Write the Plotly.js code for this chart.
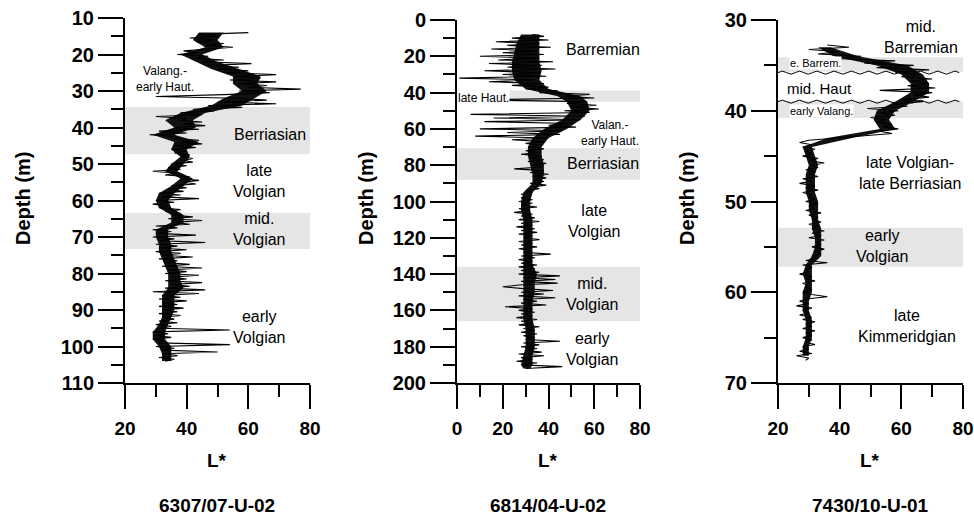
<!DOCTYPE html>
<html>
<head>
<meta charset="utf-8">
<script src="https://cdn.plot.ly/plotly-3.0.1.min.js"></script>
<style>html,body{margin:0;padding:0;background:#fff;}#chart{width:974px;height:518px;}</style>
</head>
<body>
<div id="chart"></div>
<script>
// ---------- Core 6307/07-U-02 ----------
const depth1 = [14,14.5,15,15.5,16,16.5,17,17.5,18,18.5,
19,19.5,20,20.5,21,21.5,22,22.5,23,23.5,
24,24.5,25,25.5,26,26.5,27,27.5,28,28.5,
29,29.5,30,30.5,31,31.5,32,32.5,33,33.5,
34,34.5,35,35.5,36,36.5,37,37.5,38,38.5,
39,39.5,40,40.5,41,41.5,42,42.5,43,43.5,
44,44.5,45,45.5,46,46.5,47,47.5,48,48.5,
49,49.5,50,50.5,51,51.5,52,52.5,53,53.5,
54,54.5,55,55.5,56,56.5,57,57.5,58,58.5,
59,59.5,60,60.5,61,61.5,62,62.5,63,63.5,
64,64.5,65,65.5,66,66.5,67,67.5,68,68.5,
69,69.5,70,70.5,71,71.5,72,72.5,73,73.5,
74,74.5,75,75.5,76,76.5,77,77.5,78,78.5,
79,79.5,80,80.5,81,81.5,82,82.5,83,83.5,
84,84.5,85,85.5,86,86.5,87,87.5,88,88.5,
89,89.5,90,90.5,91,91.5,92,92.5,93,93.5,
94,94.5,95,95.5,96,96.5,97,97.5,98,98.5,
99,99.5,100,100.5,101,101.5,102,102.5,103,103.5,
104];
const lstar1 = [60,44,50,41,49,43,52,46,55,47,
39,44,37,47,42,52,45,61,47,57,
50,60,53,69,56,64,54,69,57,66,
60,77,57,67,52,30,56,66,50,69,
47,58,42,49,38,45,30,40,38,45,
39,46,36,44,31,40,28,37,36,44,
38,45,36,43,35,40,36,41,38,42,
39,42,35,40,34,38,29,37,33,41,
38,44,39,43,35,40,34,39,31,38,
32,44,30,36,29,34,31,38,33,38,
35,42,34,45,36,41,30,37,29,35,
30,43,29,36,31,46,30,37,31,40,
30,38,32,42,31,37,33,41,32,45,
34,40,33,44,35,40,33,45,35,41,
33,46,29,44,32,38,31,40,32,37,
31,39,32,37,31,38,32,36,31,37,
30,35,31,54,29,34,30,35,29,33,
31,54,30,36,32,50,32,37,31,36,
33];
// dense core of the record (inner envelope)
const coreDepth1 = [14,16,18,20,22,24,26,28,30,32,34,36,38,40,42,44,46,48,50,52,54,56,58,60,62,64,66,68,70,72,74,76,78,80,82,84,86,88,90,92,94,96,98,100,102,104];
const coreLow1  = [44,42,46,38,43,48,55,55,58,52,48,38,33,36,29,36,35,38,35,33,38,35,31,30,31,35,35,30,30,31,31,32,33,34,34,34,32,32,32,32,31,29,29,31,32,32];
const coreHigh1 = [52,50,52,45,50,57,64,63,66,62,58,46,42,43,36,44,40,41,39,37,42,39,36,34,35,39,39,34,34,35,35,36,37,38,38,39,36,36,36,35,34,33,33,35,35,35];

// ---------- Core 6814/04-U-02 ----------
const depth2 = [8,9,10,11,12,13,14,15,16,17,
18,19,20,21,22,23,24,25,26,27,
28,29,30,31,32,33,34,35,36,37,
38,39,40,41,42,43,44,45,46,47,
48,49,50,51,52,53,54,55,56,57,
58,59,60,61,62,63,64,65,66,67,
68,69,70,71,72,73,74,75,76,77,
78,79,80,81,82,83,84,85,86,87,
88,89,90,91,92,93,94,95,96,97,
98,99,100,101,102,103,104,105,106,107,
108,109,110,111,112,113,114,115,116,117,
118,119,120,121,122,123,124,125,126,127,
128,129,130,131,132,133,134,135,136,137,
138,139,140,141,142,143,144,145,146,147,
148,149,150,151,152,153,154,155,156,157,
158,159,160,161,162,163,164,165,166,167,
168,169,170,171,172,173,174,175,176,177,
178,179,180,181,182,183,184,185,186,187,
188,189,190,191,192];
const lstar2 = [33,38,24,40,17,36,22,41,15,35,
20,38,10,36,18,42,14,37,22,43,
12,36,20,39,1,34,14,38,24,40,
30,44,36,58,47,60,10,56,48,61,
50,62,47,58,6,56,16,54,12,50,
40,52,10,46,22,45,8,40,24,38,
30,37,31,38,30,36,28,37,32,38,
31,39,33,37,25,38,32,40,33,39,
34,38,32,39,33,36,30,33,28,32,
28,33,27,33,28,35,27,32,25,33,
28,34,27,36,28,33,26,34,28,35,
27,33,29,36,27,33,28,35,27,32,
29,41,28,34,27,33,28,35,27,34,
28,36,27,45,29,43,28,44,27,20,
29,42,28,38,27,43,29,35,28,39,
21,33,27,34,28,33,26,35,28,33,
27,36,29,34,28,35,29,34,30,45,
29,36,28,35,30,37,27,38,28,33,
26,35,28,46,30];
const coreDepth2 = [8,13,18,23,28,33,38,42,45,50,55,60,65,70,75,80,85,90,95,100,105,110,115,120,125,130,135,140,145,150,155,160,165,170,175,180,185,190,192];
const coreLow2  = [28,26,25,24,24,25,30,44,48,50,46,38,33,31,31,32,33,33,29,28,28,29,29,29,29,29,29,29,29,29,29,29,29,30,30,30,29,28,29];
const coreHigh2 = [36,36,36,36,37,36,40,54,57,58,54,48,40,37,37,38,38,37,33,32,32,33,33,33,33,33,33,35,34,34,33,33,33,34,34,34,33,33,32];

// ---------- Core 7430/10-U-01 ----------
const depth3 = [32.75,33,33.25,33.5,33.75,34,34.25,34.5,34.75,35,
35.25,35.5,35.75,36,36.25,36.5,36.75,37,37.25,37.5,
37.75,38,38.25,38.5,38.75,39,39.25,39.5,39.75,40,
40.25,40.5,40.75,41,41.25,41.5,41.75,42,42.25,42.5,
42.75,43,43.25,43.5,43.75,44,44.25,44.5,44.75,45,
45.25,45.5,45.75,46,46.25,46.5,46.75,47,47.25,47.5,
47.75,48,48.25,48.5,48.75,49,49.25,49.5,49.75,50,
50.25,50.5,50.75,51,51.25,51.5,51.75,52,52.25,52.5,
52.75,53,53.25,53.5,53.75,54,54.25,54.5,54.75,55,
55.25,55.5,55.75,56,56.25,56.5,56.75,57,57.25,57.5,
57.75,58,58.25,58.5,58.75,59,59.25,59.5,59.75,60,
60.25,60.5,60.75,61,61.25,61.5,61.75,62,62.25,62.5,
62.75,63,63.25,63.5,63.75,64,64.25,64.5,64.75,65,
65.25,65.5,65.75,66,66.25,66.5,66.75,67,67.25,67.5];
const lstar3 = [36,43,30,40,33,47,38,58,48,64,
52,69,58,66,60,70,63,69,62,71,
53,70,64,69,61,67,57,62,49,59,
53,58,50,55,52,57,54,59,53,57,
48,40,30,27,31,28,32,29,31,28,
33,30,35,31,33,29,32,30,33,28,
31,27,32,29,33,28,31,30,32,29,
33,30,32,29,34,30,33,31,34,30,
33,31,35,31,34,30,35,32,34,31,
35,32,34,31,33,29,36,28,31,29,
30,27,31,29,32,28,30,29,31,28,
31,36,29,27,30,26,31,28,30,27,
31,28,32,29,31,28,32,29,31,28,
31,29,32,28,30,27,31,26,30,29];
const coreDepth3 = [33,34,35,36,37,38,39,40,41,42,43,44,45,46,47,48,49,50,51,52,53,54,55,56,57,58,59,60,61,62,63,64,65,66,67];
const coreLow3  = [33,38,52,60,63,63,58,52,51,53,36,28,29,30,29,29,29,30,30,31,31,32,32,31,29,28,29,28,28,28,29,29,29,28,28];
const coreHigh3 = [37,46,62,67,69,69,64,58,56,58,44,31,32,33,32,32,32,33,33,33,34,34,34,34,31,31,31,31,30,30,31,31,31,30,30];

// ---------- Panel titles, axis labels and stage labels ----------
const coreNames = ["6307/07-U-02", "6814/04-U-02", "7430/10-U-01"];
const depthTitle = "Depth (m)";
const lTitle = "L*";

// stage shading bands [top, bottom] per core
const bands1 = [[34.4, 47.3], [63.4, 73.3]];
const bands2 = [[38.8, 45.0], [70.7, 88.0], [136, 166]];
const bands3 = [[34.1, 35.7], [38.9, 40.8], [52.9, 57.2]];
// unconformity depths in core 3
const unconf3 = [35.8, 39.0];

// labels: [text, L*, depth, size, whiteBg]
const labels1 = [
  ["Valang.-<br>early Haut.", 33, 26.6, 12, false],
  ["Berriasian", 67, 41.8, 16, false],
  ["late<br>Volgian", 63.7, 54.7, 16, false],
  ["mid.<br>Volgian", 63.7, 67.8, 16, false],
  ["early<br>Volgian", 63.7, 94.7, 16, false]
];
const labels2 = [
  ["Barremian", 63.8, 16.5, 16, false],
  ["late Haut.", 11.5, 43.0, 12, true],
  ["Valan.-<br>early Haut.", 67, 62, 12, false],
  ["Berriasian", 63.8, 78.8, 16, false],
  ["late<br>Volgian", 60.3, 110.7, 16, false],
  ["mid.<br>Volgian", 59.4, 151, 16, false],
  ["early<br>Volgian", 59.4, 181, 16, false]
];
const labels3 = [
  ["mid.<br>Barremian", 66.3, 31.9, 16, false],
  ["e. Barrem.", 32, 34.7, 11, true],
  ["mid. Haut", 33.3, 37.5, 15, false],
  ["early Valang.", 34, 40.0, 11, true],
  ["late Volgian-<br>late Berriasian", 62.8, 46.9, 16, false],
  ["early<br>Volgian", 54, 54.9, 16, false],
  ["late<br>Kimmeridgian", 61.8, 63.7, 16, false]
];

// ---------- Build figure ----------
const W = 974, H = 518;
const px = v => v / W;
const py = v => 1 - v / H;

const lineStyle = {color: "#000", width: 1.1};
function coreTrace(d, lo, hi, xa, ya) {
  return {
    x: lo.concat(hi.slice().reverse()),
    y: d.concat(d.slice().reverse()),
    xaxis: xa, yaxis: ya, mode: "lines", fill: "toself",
    fillcolor: "#111", line: {width: 0, color: "#111"}, hoverinfo: "skip"
  };
}
const traces = [
  coreTrace(coreDepth1, coreLow1, coreHigh1, "x", "y"),
  coreTrace(coreDepth2, coreLow2, coreHigh2, "x2", "y2"),
  coreTrace(coreDepth3, coreLow3, coreHigh3, "x3", "y3"),
  {x: lstar1, y: depth1, xaxis: "x", yaxis: "y", mode: "lines", line: lineStyle, hoverinfo: "x+y"},
  {x: lstar2, y: depth2, xaxis: "x2", yaxis: "y2", mode: "lines", line: lineStyle, hoverinfo: "x+y"},
  {x: lstar3, y: depth3, xaxis: "x3", yaxis: "y3", mode: "lines", line: lineStyle, hoverinfo: "x+y"}
];

const tickFontY = {family: "Liberation Sans, Arial, sans-serif", size: 20, color: "#000", weight: "bold"};
const tickFontX = {family: "Liberation Sans, Arial, sans-serif", size: 19, color: "#000", weight: "bold"};

function xAxis(domain, range, anchor) {
  return {
    domain: domain, range: range, anchor: anchor, fixedrange: true,
    showline: true, linecolor: "#000", linewidth: 2, mirror: false,
    showgrid: false, zeroline: false,
    ticks: "outside", ticklen: 24, tickwidth: 2, tickcolor: "#000",
    tick0: 0, dtick: 20, tickfont: tickFontX, ticklabeloverflow: "allow", ticklabelstandoff: 3,
    minor: {dtick: 10, tick0: 0, ticks: "outside", ticklen: 12, tickwidth: 2, tickcolor: "#000", showgrid: false}
  };
}
function yAxis(domain, range, dtick, anchor) {
  return {
    domain: domain, range: range, anchor: anchor, fixedrange: true,
    showline: true, linecolor: "#000", linewidth: 2,
    showgrid: false, zeroline: false,
    ticks: "outside", ticklen: 25, tickwidth: 2, tickcolor: "#000",
    tick0: 0, dtick: dtick, tickfont: tickFontY, ticklabeloverflow: "allow",
    minor: {dtick: dtick / 2, tick0: 0, ticks: "outside", ticklen: 12, tickwidth: 2, tickcolor: "#000", showgrid: false}
  };
}

const dom1x = [px(125), px(310)], dom2x = [px(457), px(640)], dom3x = [px(778), px(963)];
const dom1y = [py(383), py(18)], dom2y = [py(383), py(20)], dom3y = [py(383), py(20)];
const xr1 = [20, 80], xr2 = [0, 80], xr3 = [20, 80];

const shapes = [];
function addBands(bands, xr, xref, yref) {
  bands.forEach(b => shapes.push({
    type: "rect", xref: xref, yref: yref, x0: xr[0], x1: xr[1], y0: b[0], y1: b[1],
    fillcolor: "#e5e5e5", line: {width: 0}, layer: "below"
  }));
}
addBands(bands1, xr1, "x", "y");
addBands(bands2, xr2, "x2", "y2");
addBands(bands3, xr3, "x3", "y3");

// wavy unconformity lines (decoration)
unconf3.forEach(d => {
  let p = "M " + xr3[0] + "," + d;
  let k = 0;
  for (let xv = xr3[0] + 1.4; xv <= xr3[1] + 0.01; xv += 1.4) {
    k++;
    const off = (k % 4 === 1) ? -0.17 : (k % 4 === 3 ? 0.17 : 0);
    p += " L " + xv.toFixed(2) + "," + (d + off).toFixed(3);
  }
  shapes.push({type: "path", xref: "x3", yref: "y3", path: p, line: {color: "#000", width: 1}, layer: "above"});
});

const annotations = [];
const labFont = s => ({family: "Liberation Sans, Arial, sans-serif", size: s, color: "#000"});
function addLabels(list, xref, yref) {
  list.forEach(l => {
    const a = {text: l[0], x: l[1], y: l[2], xref: xref, yref: yref, showarrow: false,
      font: labFont(l[3]), xanchor: "center", yanchor: "middle", align: "center"};
    if (l[4]) { a.bgcolor = "#fff"; a.borderpad = 0; }
    annotations.push(a);
  });
}
addLabels(labels1, "x", "y");
addLabels(labels2, "x2", "y2");
addLabels(labels3, "x3", "y3");

const titleFont = {family: "Liberation Sans, Arial, sans-serif", size: 19, color: "#000", weight: "bold"};
const depthFont = {family: "Liberation Sans, Arial, sans-serif", size: 20, color: "#000", weight: "bold"};
const panelCx = [217, 548, 870];
const depthCx = [23, 366, 687];
for (let i = 0; i < 3; i++) {
  annotations.push({text: depthTitle, x: px(depthCx[i]), y: py(199), xref: "paper", yref: "paper",
    showarrow: false, textangle: -90, font: depthFont, xanchor: "center", yanchor: "middle"});
  annotations.push({text: lTitle, x: px(panelCx[i]), y: py(460), xref: "paper", yref: "paper",
    showarrow: false, font: titleFont, xanchor: "center", yanchor: "middle"});
  annotations.push({text: coreNames[i], x: px(panelCx[i]), y: py(505), xref: "paper", yref: "paper",
    showarrow: false, font: titleFont, xanchor: "center", yanchor: "middle"});
}

const layout = {
  width: W, height: H,
  margin: {l: 0, r: 0, t: 0, b: 0},
  paper_bgcolor: "#fff", plot_bgcolor: "rgba(0,0,0,0)",
  showlegend: false,
  xaxis: xAxis(dom1x, xr1, "y"),
  yaxis: yAxis(dom1y, [110, 10], 10, "x"),
  xaxis2: xAxis(dom2x, xr2, "y2"),
  yaxis2: yAxis(dom2y, [200, 0], 20, "x2"),
  xaxis3: xAxis(dom3x, xr3, "y3"),
  yaxis3: yAxis(dom3y, [70, 30], 10, "x3"),
  shapes: shapes,
  annotations: annotations
};

Plotly.newPlot("chart", traces, layout, {displayModeBar: false, staticPlot: true});
</script>
</body>
</html>
